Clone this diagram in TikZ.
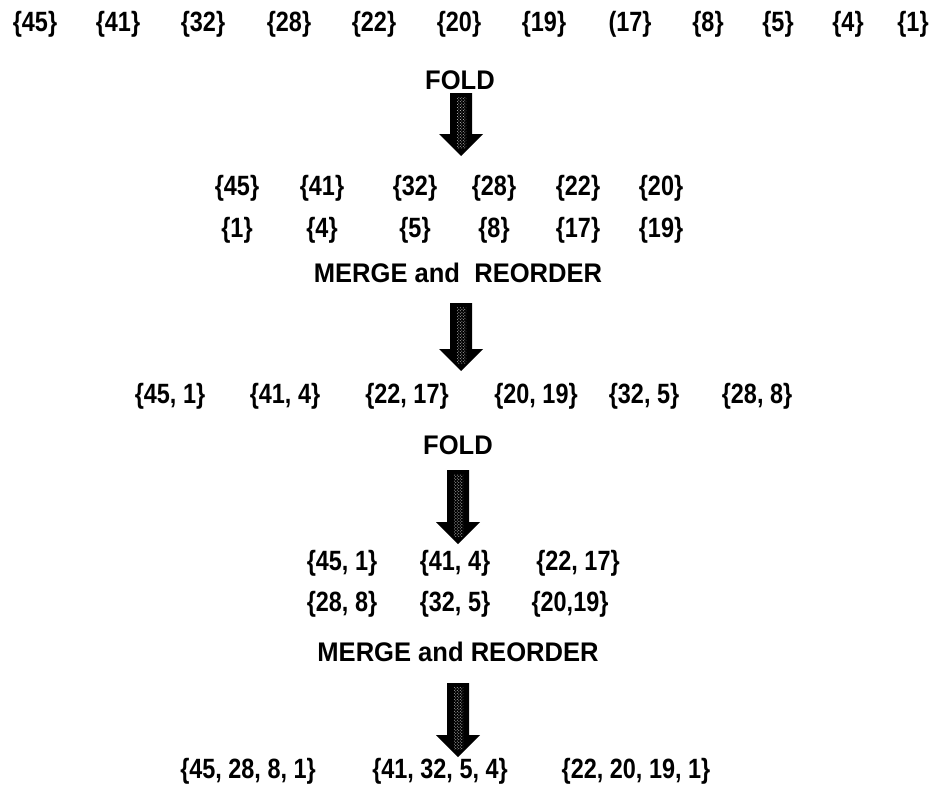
\documentclass[tikz,border=0pt]{standalone}
\usepackage{fontspec}
\setmainfont{Liberation Sans}[FakeStretch=0.84]
\newfontfamily\wordfont{Liberation Sans}[FakeStretch=0.95]
\usetikzlibrary{calc,patterns}

% fat downward block arrow from coordinate #1 (top of shaft) to #2 (tip)
\newcommand{\blockarrow}[2]{%
  \fill[black] let \p1=(#1), \p2=(#2) in
    (\x1-11bp,\y1) -- (\x1+11bp,\y1) -- (\x1+11bp,\y2+22bp) --
    (\x1+22bp,\y2+22bp) -- (\x1,\y2) -- (\x1-22bp,\y2+22bp) --
    (\x1-11bp,\y2+22bp) -- cycle;
  \fill[pattern=crosshatch dots, pattern color=white!80!black]
    let \p1=(#1), \p2=(#2) in
    (\x1-4bp,\y1-4bp) rectangle (\x1+5bp,\y2+8bp);
}

\begin{document}
\begin{tikzpicture}[x=1bp,y=-1bp,
  lbl/.style={font=\bfseries\fontsize{28}{32}\selectfont, inner sep=0pt, anchor=center},
  word/.style={font=\wordfont\bfseries\fontsize{27}{32}\selectfont, inner sep=0pt, anchor=center}]
\useasboundingbox (0,0) rectangle (933,786);

% first row of singletons
\foreach \t/\x [count=\i] in {{\{45\}}/35, {\{41\}}/118, {\{32\}}/203, {\{28\}}/289,
   {\{22\}}/374, {\{20\}}/459, {\{19\}}/544, {(17\}}/630, {\{8\}}/708,
   {\{5\}}/778, {\{4\}}/848, {\{1\}}/913}
  \node[lbl] (r1-\i) at (\x,24) {\t};

\node[word] (fold1) at (460,80) {FOLD};
\coordinate (a1s) at (461,93);
\coordinate (a1e) at (461,156);
\blockarrow{a1s}{a1e}

% folded pairs
\foreach \t/\x [count=\i] in {{\{45\}}/237, {\{41\}}/322, {\{32\}}/415,
   {\{28\}}/494, {\{22\}}/578, {\{20\}}/661}
  \node[lbl] (r2-\i) at (\x,188) {\t};
\foreach \t/\x [count=\i] in {{\{1\}}/237, {\{4\}}/322, {\{5\}}/415,
   {\{8\}}/494, {\{17\}}/578, {\{19\}}/661}
  \node[lbl] (r3-\i) at (\x,230) {\t};

\node[word] (merge1) at (458,273) {MERGE and \ REORDER};
\coordinate (a2s) at (461,303);
\coordinate (a2e) at (461,371);
\blockarrow{a2s}{a2e}

% merged pairs
\foreach \t/\x [count=\i] in {{\{45, 1\}}/170, {\{41, 4\}}/285, {\{22, 17\}}/407,
   {\{20, 19\}}/536, {\{32, 5\}}/644, {\{28, 8\}}/757}
  \node[lbl] (r4-\i) at (\x,396) {\t};

\node[word] (fold2) at (458,445) {FOLD};
\coordinate (a3s) at (458,470);
\coordinate (a3e) at (458,544);
\blockarrow{a3s}{a3e}

% folded quadruples
\foreach \t/\x [count=\i] in {{\{45, 1\}}/342, {\{41, 4\}}/455, {\{22, 17\}}/578}
  \node[lbl] (r5-\i) at (\x,563) {\t};
\foreach \t/\x [count=\i] in {{\{28, 8\}}/342, {\{32, 5\}}/455, {\{20,19\}}/570}
  \node[lbl] (r6-\i) at (\x,604) {\t};

\node[word] (merge2) at (458,652) {MERGE and REORDER};
\coordinate (a4s) at (458,683);
\coordinate (a4e) at (458,757);
\blockarrow{a4s}{a4e}

% final groups
\foreach \t/\x [count=\i] in {{\{45, 28, 8, 1\}}/248, {\{41, 32, 5, 4\}}/440,
   {\{22, 20, 19, 1\}}/636}
  \node[lbl] (r7-\i) at (\x,771) {\t};
\end{tikzpicture}
\end{document}
